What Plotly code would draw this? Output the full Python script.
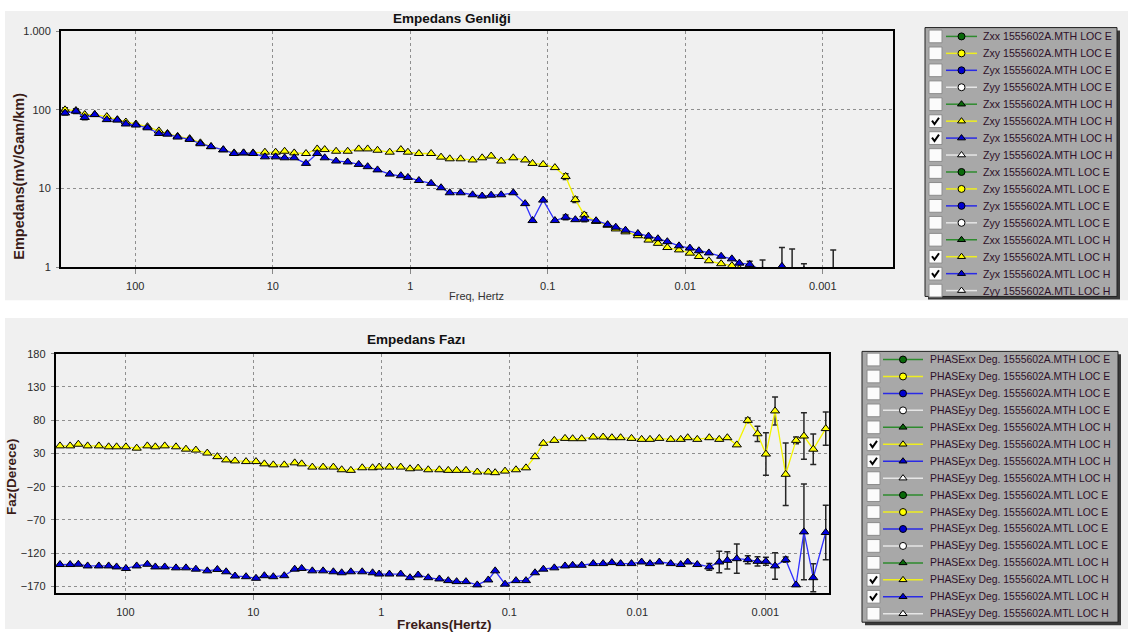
import plotly.graph_objects as go

# ---------------- data ----------------
freq = [324, 270, 233, 197, 161, 135, 117, 98.9, 81.5, 67.3,
        58.3, 49.2, 40.2, 33.6, 28.1, 22.9, 19.1, 16.3, 13.9, 11.4,
        9.53, 8.20, 6.98, 5.73, 4.75, 4.19, 3.46, 2.85, 2.37, 2.04,
        1.73, 1.41, 1.17, 1.04, 0.865, 0.705, 0.597, 0.516, 0.430, 0.352,
        0.300, 0.258, 0.218, 0.178, 0.146, 0.129, 0.108, 0.0887, 0.0741, 0.0630,
        0.0542, 0.0445, 0.0367, 0.0320, 0.0272, 0.0221, 0.0185, 0.0158, 0.0135, 0.0111,
        0.00925, 0.00796, 0.00673, 0.00548, 0.00458, 0.00404, 0.00340, 0.00274, 0.00229, 0.00198,
        0.00167, 0.00137, 0.00115, 0.000989, 0.000839, 0.000693, 0.000575, 0.000499, 0.000422, 0.000337]

amp_zxy = [100, 98, 87, 87, 82, 75, 70, 66, 61, 54,
           50, 46, 43, 38, 34, 31, 28.3, 28.3, 28.3, 28.9,
           28.9, 29.7, 28.3, 27.8, 31.8, 31.2, 29.7, 29.7, 31.8, 31.8,
           30.6, 28.9, 31.2, 28.9, 27.8, 27.8, 25.0, 23.8, 23.8, 23.0,
           24.5, 25.8, 22.3, 24.5, 23.0, 20.8, 20.2, 18.4, 14.2, 7.2,
           4.6, 3.8, 3.4, 3.05, 2.8, 2.5, 2.2, 2.0, 1.77, 1.65,
           1.5, 1.36, 1.2, 1.1, 1.04, 0.95, 0.9, 0.85, 0.8, 0.75,
           0.7, 0.7, 0.65, 0.6, 0.6, 0.55, 0.5, 0.5, 0.45, 0.45]

amp_zyx = [91, 96, 80, 87, 75, 74, 66, 64, 59, 50,
           49, 45, 42, 37, 34, 31, 27.8, 28.3, 27.8, 25.2,
           25.2, 24.5, 24.5, 20.8, 27.8, 24.5, 22.3, 21.7, 20.2, 18.9,
           17.2, 15.2, 14.5, 13.8, 12.6, 11.6, 10.2, 8.8, 8.8, 8.3,
           8.0, 8.2, 8.3, 8.8, 6.4, 3.9, 7.1, 3.9, 4.3, 4.0,
           4.06, 3.88, 3.46, 3.21, 2.94, 2.67, 2.47, 2.29, 2.10, 1.86,
           1.74, 1.61, 1.51, 1.37, 1.27, 1.12, 1.08, 0.9, 0.85, 1.02,
           0.8, 0.9, 0.7, 0.65, 0.8, 0.6, 0.55, 0.5, 0.45, 0.45]

N = None
amp_zxy_err = [6, 5, N, N, N, N, N, N, N, N,
               N, N, N, N, N, N, N, N, N, N,
               N, N, N, N, N, N, N, N, N, N,
               N, N, N, N, N, N, N, N, N, N,
               N, N, N, N, N, N, N, N, 1.2, 0.6,
               0.3, N, N, N, N, N, N, N, N, N,
               N, N, N, N, N, N, N, N, N, N,
               N, N, N, N, N, N, N, N, N, N]

amp_zyx_err = [5, 6, 5, N, N, N, N, N, N, N,
               N, N, N, N, N, N, N, N, N, N,
               N, N, N, N, N, N, N, N, N, N,
               N, N, N, N, N, N, N, N, N, N,
               N, N, N, N, N, N, N, N, 0.3, N,
               0.3, N, N, N, N, N, N, N, N, N,
               N, N, N, N, N, N, 0.1, 0.33, N, 0.75,
               0.89, 0.2, N, N, 0.84, N, N, N, N, N]

phase_xy = [41.3, 41.3, 43.8, 41.3, 41.3, 39.9, 39.9, 39.9, 37.9, 41.3,
            39.9, 41.3, 39.9, 36.4, 35.0, 30.5, 25.1, 20.2, 18.7, 17.7,
            17.7, 14.3, 12.8, 12.8, 15.8, 14.3, 9.4, 9.4, 9.4, 5.4,
            4.5, 8.4, 8.4, 9.4, 9.4, 9.4, 6.9, 7.9, 5.4, 5.4,
            4.5, 4.5, 4.5, 2.0, 2.0, 1.0, 3.4, 5.4, 8.3, 25.1,
            45.2, 49.6, 52.6, 52.1, 52.1, 54.6, 54.6, 53.6, 53.6, 52.6,
            51.1, 51.1, 52.6, 51.1, 51.1, 53.6, 51.1, 53.6, 51.1, 53.6,
            42.8, 79.7, 59.5, 29.0, 93.9, -1.4, 49.6, 56.1, 36.3, 67.3]

phase_yx = [-137.1, -137.1, -136.7, -139.2, -139.2, -139.2, -140.7, -143.0, -139.2, -136.7,
            -140.7, -140.7, -142.1, -142.1, -144.1, -146.6, -144.5, -148.0, -154.4, -155.4,
            -157.8, -153.9, -155.4, -153.9, -144.1, -143.0, -146.6, -146.6, -148.0, -149.5,
            -148.0, -148.0, -149.5, -151.4, -151.4, -151.4, -156.9, -152.9, -156.9, -158.8,
            -161.3, -162.8, -162.8, -167.7, -160.3, -146.6, -166.6, -161.3, -161.3, -149.5,
            -144.1, -142.1, -139.2, -138.2, -138.2, -135.7, -135.7, -134.2, -135.7, -135.7,
            -133.3, -135.7, -133.3, -135.7, -137.1, -133.3, -137.1, -140.7, -133.3, -130.8,
            -128.3, -129.8, -132.3, -132.3, -139.2, -129.8, -167.7, -88.0, -156.9, -89.0]

phase_xy_err = [N] * 71 + [3.5, 11.5, 32, 21, 47, 5, 35, 23, 25]
phase_yx_err = [N] * 67 + [5, 16, 13, 22, 6, 7, 6, 20, 4, N, 72, 21, 41]

amp_ticks = [1, 10, 100, 1000]
amp_ticktext = ["1", "10", "100", "1.000"]
freq_ticks = [100, 10, 1, 0.1, 0.01, 0.001]
freq_ticktext = ["100", "10", "1", "0.1", "0.01", "0.001"]
phase_ticks = [180, 130, 80, 30, -20, -70, -120, -170]

station = "1555602A"
bands = ["MTH", "MTL"]
sources = ["E", "H"]
components = ["xx", "xy", "yx", "yy"]
shown = [("MTH", "H", "xy"), ("MTH", "H", "yx"), ("MTL", "H", "xy"), ("MTL", "H", "yx")]

# ---------------- helpers ----------------
W, H = 1128, 639
BG = "#f0f0f0"


def px(x):
    return x / W


def py(y):
    return 1 - y / H


YEL_LINE, YEL_FILL = "#f4f400", "#ffff00"
BLU_LINE, BLU_FILL = "#3030ff", "#0000e0"
ERR = dict(type="data", color="#262626", thickness=1.5, width=3, visible=True)

fig = go.Figure()


def add_series(x, y, err, line_c, fill_c, xa, ya, name):
    fig.add_trace(go.Scatter(
        x=x, y=y, mode="lines+markers", name=name, showlegend=False,
        xaxis=xa, yaxis=ya,
        line=dict(color=line_c, width=1.3),
        marker=dict(symbol="triangle-up", size=8, color=fill_c,
                    line=dict(color="#000000", width=1)),
        error_y=dict(array=err, **ERR),
    ))


add_series(freq, amp_zxy, amp_zxy_err, YEL_LINE, YEL_FILL, "x", "y", "Zxy")
add_series(freq, amp_zyx, amp_zyx_err, BLU_LINE, BLU_FILL, "x", "y", "Zyx")
add_series(freq, phase_xy, phase_xy_err, YEL_LINE, YEL_FILL, "x2", "y2", "PHASExy")
add_series(freq, phase_yx, phase_yx_err, BLU_LINE, BLU_FILL, "x2", "y2", "PHASEyx")

shapes = []
annotations = []


def text(x, y, s, font, angle=0, xanchor="center"):
    annotations.append(dict(x=px(x), y=py(y), xref="paper", yref="paper", text=s,
                            showarrow=False, xanchor=xanchor, yanchor="middle",
                            textangle=angle, font=font))


# panel backgrounds
for (x0, y0, x1, y1) in [(5, 5, 1128, 300), (5, 318, 1128, 635)]:
    shapes.append(dict(type="rect", xref="paper", yref="paper", layer="below",
                       x0=px(x0), x1=px(x1), y0=py(y1), y1=py(y0),
                       fillcolor=BG, line=dict(width=0)))

# ---------------- custom legend panels ----------------
comp_line = {"xx": "#2e8b2e", "xy": "#eeee20", "yx": "#2a2ae6", "yy": "#e6e6e6"}
comp_fill = {"xx": "#0a6a0a", "xy": "#ffff00", "yx": "#0000d0", "yy": "#ffffff"}
src_symbol = {"E": "circle", "H": "triangle-up"}


def legend_panel(box, row0, dy, cb_x, line_x, text_x, fmt, font_size):
    L, T, R, B = box
    shapes.append(dict(type="rect", xref="paper", yref="paper", layer="below",
                       x0=px(L + 3), x1=px(R + 3), y0=py(B + 3), y1=py(T + 3),
                       fillcolor="#3a3a3a", line=dict(width=0)))
    shapes.append(dict(type="rect", xref="paper", yref="paper", layer="below",
                       x0=px(L), x1=px(R), y0=py(B), y1=py(T),
                       fillcolor="#a8a8a8", line=dict(color="#202020", width=1)))
    i = 0
    mx, my, msym, mfill = [], [], [], []
    for band in bands:
        for src in sources:
            for comp in components:
                yc = row0 + i * dy
                shapes.append(dict(type="rect", xref="paper", yref="paper", layer="below",
                                   x0=px(cb_x), x1=px(cb_x + 13), y0=py(yc + 6.5), y1=py(yc - 6.5),
                                   fillcolor="#fbfbfb", line=dict(color="#8c8c8c", width=1)))
                if (band, src, comp) in shown:
                    # tick mark inside the checkbox
                    pts = [(cb_x + 3, yc - 0.5), (cb_x + 5.5, yc + 3), (cb_x + 10, yc - 3.5)]
                    path = "M {} {} L {} {} L {} {}".format(
                        px(pts[0][0]), py(pts[0][1]), px(pts[1][0]), py(pts[1][1]),
                        px(pts[2][0]), py(pts[2][1]))
                    shapes.append(dict(type="path", xref="paper", yref="paper", layer="below",
                                       path=path, line=dict(color="#000000", width=2)))
                shapes.append(dict(type="line", xref="paper", yref="paper", layer="below",
                                   x0=px(line_x[0]), x1=px(line_x[1]), y0=py(yc), y1=py(yc),
                                   line=dict(color=comp_line[comp], width=1.5)))
                mx.append((line_x[0] + line_x[1]) / 2)
                my.append(yc)
                msym.append(src_symbol[src])
                mfill.append(comp_fill[comp])
                text(text_x, yc, fmt.format(comp=comp, st=station, band=band, src=src),
                     dict(size=font_size, color="#2e1028", family="Liberation Sans"),
                     xanchor="left")
                i += 1
    fig.add_trace(go.Scatter(x=mx, y=my, mode="markers", xaxis="x3", yaxis="y3",
                             showlegend=False, hoverinfo="skip",
                             marker=dict(symbol=msym, size=7, color=mfill,
                                         line=dict(color="#000000", width=1))))


legend_panel((925, 22, 1117, 296), 31.0, 17.27, 929, (946, 977), 981,
             "Z{comp} {st}.{band} LOC {src}", 10.6)
legend_panel((862, 352, 1118, 628), 360.3, 17.27, 867, (883, 923), 927.5,
             "PHASE{comp} Deg. {st}.{band} LOC {src}", 10.4)

# ---------------- titles ----------------
TITLE_FONT = dict(family="Liberation Sans", size=13.5, color="#111111")
AX_TITLE_COLOR = "#3a1c18"
text(452, 13, "<b>Empedans Genliği</b>", TITLE_FONT)
text(416, 340, "<b>Empedans Fazı</b>", TITLE_FONT)
text(476, 296, "Freq, Hertz", dict(family="Liberation Sans", size=11, color="#333333"))
text(444, 630, "<b>Frekans(Hertz)</b>",
     dict(family="Liberation Sans", size=13.5, color=AX_TITLE_COLOR))
text(19, 174, "<b>Empedans(mV/Gam/km)</b>",
     dict(family="Liberation Sans", size=14.5, color=AX_TITLE_COLOR), angle=-90)
text(12, 480, "<b>Faz(Derece)</b>",
     dict(family="Liberation Sans", size=13.5, color=AX_TITLE_COLOR), angle=-90)

TICK_FONT = dict(family="Liberation Sans", size=11, color="#2a2a2a")
GRID = dict(showgrid=True, gridcolor="#8f8f8f", gridwidth=1, griddash="3px,3px")
FRAME = dict(showline=True, linecolor="#000000", linewidth=2, mirror=True, zeroline=False)

fig.update_layout(
    width=W, height=H, margin=dict(l=0, r=0, t=0, b=0),
    paper_bgcolor="#ffffff", plot_bgcolor="rgba(0,0,0,0)",
    showlegend=False,
    xaxis=dict(domain=[px(61), px(893)], type="log", range=[2.540, -3.511], anchor="y",
               tickvals=freq_ticks, ticktext=freq_ticktext, tickfont=TICK_FONT,
               ticks="outside", ticklen=5, tickcolor="#888888", ticklabelstandoff=3,
               **GRID, **FRAME),
    yaxis=dict(domain=[py(266), py(25.7)], type="log", range=[0, 3], anchor="x",
               tickvals=amp_ticks, ticktext=amp_ticktext, tickfont=TICK_FONT,
               ticks="outside", ticklen=3, tickcolor="#888888", ticklabelstandoff=3,
               **GRID, **FRAME),
    xaxis2=dict(domain=[px(55.7), px(829.3)], type="log", range=[2.544, -3.5], anchor="y2",
                tickvals=freq_ticks, ticktext=freq_ticktext, tickfont=TICK_FONT,
                ticks="outside", ticklen=5, tickcolor="#888888", ticklabelstandoff=3,
                **GRID, **FRAME),
    yaxis2=dict(domain=[py(598.3), py(354.3)], range=[-180, 180], anchor="x2",
                tickvals=phase_ticks, tickfont=TICK_FONT,
                ticks="outside", ticklen=3, tickcolor="#888888", ticklabelstandoff=3,
                **GRID, **FRAME),
    xaxis3=dict(domain=[0, 1], range=[0, W], visible=False, fixedrange=True, anchor="y3"),
    yaxis3=dict(domain=[0, 1], range=[H, 0], visible=False, fixedrange=True, anchor="x3"),
    shapes=shapes,
    annotations=annotations,
)

fig.write_html("out.html")
